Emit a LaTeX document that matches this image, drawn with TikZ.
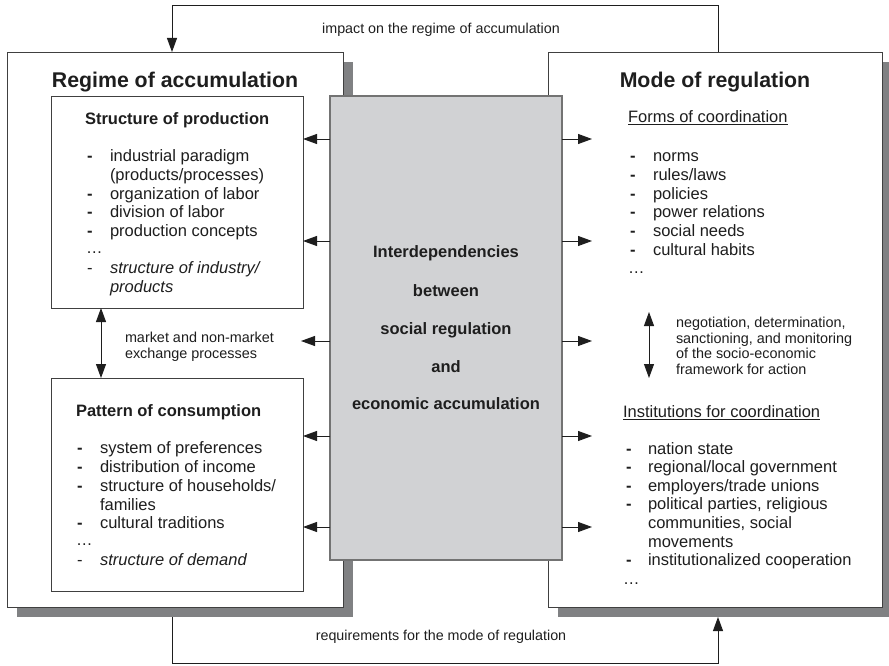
\documentclass[tikz,border=0pt]{standalone}
\usepackage{fontspec}
\setmainfont{Liberation Sans}
\usetikzlibrary{arrows.meta,shadows}
\definecolor{shade}{HTML}{808183}
\definecolor{core}{HTML}{D1D2D4}
\definecolor{ink}{HTML}{1E1E1E}
\begin{document}
\begin{tikzpicture}[x=1pt,y=-1pt,
  every node/.style={inner sep=0pt, outer sep=0pt, text=ink},
  frame/.style={draw=ink!85, line width=0.9pt, fill=white, anchor=north west},
  panel/.style={frame, drop shadow={shadow xshift=10pt, shadow yshift=-10pt, opacity=1, fill=shade}},
  centrebox/.style={draw=black!55, line width=1.2pt, fill=core, anchor=north west},
  bigtitle/.style={font=\fontsize{21.3}{24}\selectfont\bfseries, anchor=base},
  head/.style={font=\fontsize{16.5}{18}\selectfont\bfseries, anchor=base west},
  item/.style={font=\fontsize{16.5}{18}\selectfont, anchor=base west},
  bullet/.style={font=\fontsize{16.5}{18}\selectfont\bfseries, anchor=base west},
  core text/.style={font=\fontsize{16.5}{18}\selectfont\bfseries, anchor=base},
  note/.style={font=\fontsize{14.4}{16}\selectfont, anchor=base west},
  caption/.style={font=\fontsize{14.3}{16}\selectfont, anchor=base},
  link/.style={draw=ink, line width=0.9pt, -{Triangle[length=14pt,width=10pt]}},
  both/.style={draw=ink, line width=0.9pt, {Triangle[length=14pt,width=10pt]}-{Triangle[length=14pt,width=10pt]}}
]
\useasboundingbox (0,0) rectangle (889,666);

% outer panels with their drop shadows
\node[panel, minimum width=336pt, minimum height=555pt] (regime) at (7,52) {};
\node[panel, minimum width=334pt, minimum height=555pt] (regulation) at (548,52) {};

% inner boxes of the regime of accumulation
\node[frame, minimum width=252pt, minimum height=212pt] (prod) at (51,96) {};
\node[frame, minimum width=252pt, minimum height=213pt] (cons) at (51,378) {};

% central box, drawn over both panels
\node[centrebox, minimum width=232pt, minimum height=464pt] (core) at (330,96) {};

% panel titles
\node[bigtitle] (t1) at (175,87.5) {Regime of accumulation};
\node[bigtitle] (t2) at (715,87.5) {Mode of regulation};

% structure of production
\node[head] (p0) at (85,124.5) {Structure of production};
\node[bullet] (pd1) at (87,162) {-};   \node[item] (p1) at (110,162) {industrial paradigm};
\node[item] (p2) at (110,180.6) {(products/processes)};
\node[bullet] (pd3) at (87,199.2) {-}; \node[item] (p3) at (110,199.2) {organization of labor};
\node[bullet] (pd4) at (87,217.8) {-}; \node[item] (p4) at (110,217.8) {division of labor};
\node[bullet] (pd5) at (87,236.4) {-}; \node[item] (p5) at (110,236.4) {production concepts};
\node[item] (p6) at (86,253) {…};
\node[item] (pd7) at (87,273.6) {-}; \node[item] (p7) at (110,273.6) {\itshape structure of industry/};
\node[item] (p8) at (110,292.2) {\itshape products};

% pattern of consumption
\node[head] (c0) at (76,416.5) {Pattern of consumption};
\node[bullet] (cd1) at (77,453) {-}; \node[item] (c1) at (100,453) {system of preferences};
\node[bullet] (cd2) at (77,472) {-}; \node[item] (c2) at (100,472) {distribution of income};
\node[bullet] (cd3) at (77,491) {-}; \node[item] (c3) at (100,491) {structure of households/};
\node[item] (c4) at (100,510) {families};
\node[bullet] (cd5) at (77,528.5) {-}; \node[item] (c5) at (100,528.5) {cultural traditions};
\node[item] (c6) at (76,545) {…};
\node[item] (cd7) at (77,565) {-}; \node[item] (c7) at (100,565) {\itshape structure of demand};

% exchange between production and consumption
\coordinate (ex1) at (101,308);
\coordinate (ex2) at (101,378);
\draw[both] (prod.south -| ex1) -- (cons.north -| ex2);
\node[note] (m1) at (125,342) {market and non-market};
\node[note] (m2) at (125,358) {exchange processes};

% central text
\node[core text] (k1) at (446,257) {Interdependencies};
\node[core text] (k2) at (446,296) {between};
\node[core text] (k3) at (446,334) {social regulation};
\node[core text] (k4) at (446,372) {and};
\node[core text] (k5) at (446,409) {economic accumulation};

% forms of coordination
\node[item] (f0) at (628,123) {\underline{Forms of coordination}};
\node[bullet] (fd1) at (630,162) {-};   \node[item] (f1) at (653,162) {norms};
\node[bullet] (fd2) at (630,180.6) {-}; \node[item] (f2) at (653,180.6) {rules/laws};
\node[bullet] (fd3) at (630,199.2) {-}; \node[item] (f3) at (653,199.2) {policies};
\node[bullet] (fd4) at (630,217.8) {-}; \node[item] (f4) at (653,217.8) {power relations};
\node[bullet] (fd5) at (630,236.4) {-}; \node[item] (f5) at (653,236.4) {social needs};
\node[bullet] (fd6) at (630,255) {-};   \node[item] (f6) at (653,255) {cultural habits};
\node[item] (f7) at (628,273) {…};

% negotiation between forms and institutions
\coordinate (ng1) at (649,312);
\coordinate (ng2) at (649,378);
\draw[both] (ng1) -- (ng2);
\node[note] (n1) at (676,327) {negotiation, determination,};
\node[note] (n2) at (676,343) {sanctioning, and monitoring};
\node[note] (n3) at (676,358.5) {of the socio-economic};
\node[note] (n4) at (676,374) {framework for action};

% institutions for coordination
\node[item] (i0) at (623,417.5) {\underline{Institutions for coordination}};
\node[bullet] (id1) at (626,454) {-};   \node[item] (i1) at (648,454) {nation state};
\node[bullet] (id2) at (626,472.6) {-}; \node[item] (i2) at (648,472.6) {regional/local government};
\node[bullet] (id3) at (626,491.2) {-}; \node[item] (i3) at (648,491.2) {employers/trade unions};
\node[bullet] (id4) at (626,509.8) {-}; \node[item] (i4) at (648,509.8) {political parties, religious};
\node[item] (i5) at (648,528.4) {communities, social};
\node[item] (i6) at (648,547) {movements};
\node[bullet] (id7) at (626,565.6) {-}; \node[item] (i7) at (648,565.6) {institutionalized cooperation};
\node[item] (i8) at (623,584) {…};

% arrows leaving the central box
\foreach \y/\t in {139/prod,241/prod,436/cons,527/cons}
  \draw[link] (core.west |- 0,\y) -- (\t.east |- 0,\y);
\coordinate (lm) at (301,341);
\draw[link] (core.west |- lm) -- (lm);
\foreach \y [count=\i] in {139,241,341,436,527} {
  \coordinate (r\i) at (592,\y);
  \draw[link] (core.east |- r\i) -- (r\i);
}

% feedback loops between the two panels
\draw[link] ([xshift=170pt]regulation.north west) -- ++(0,-47) -| ([xshift=165pt]regime.north west);
\node[caption] (top) at (441,34) {impact on the regime of accumulation};
\draw[link] ([xshift=165pt,yshift=-10pt]regime.south west) -- ++(0,46) -| ([xshift=170pt,yshift=-10pt]regulation.south west);
\node[caption] (bottom) at (441,640) {requirements for the mode of regulation};
\end{tikzpicture}
\end{document}
